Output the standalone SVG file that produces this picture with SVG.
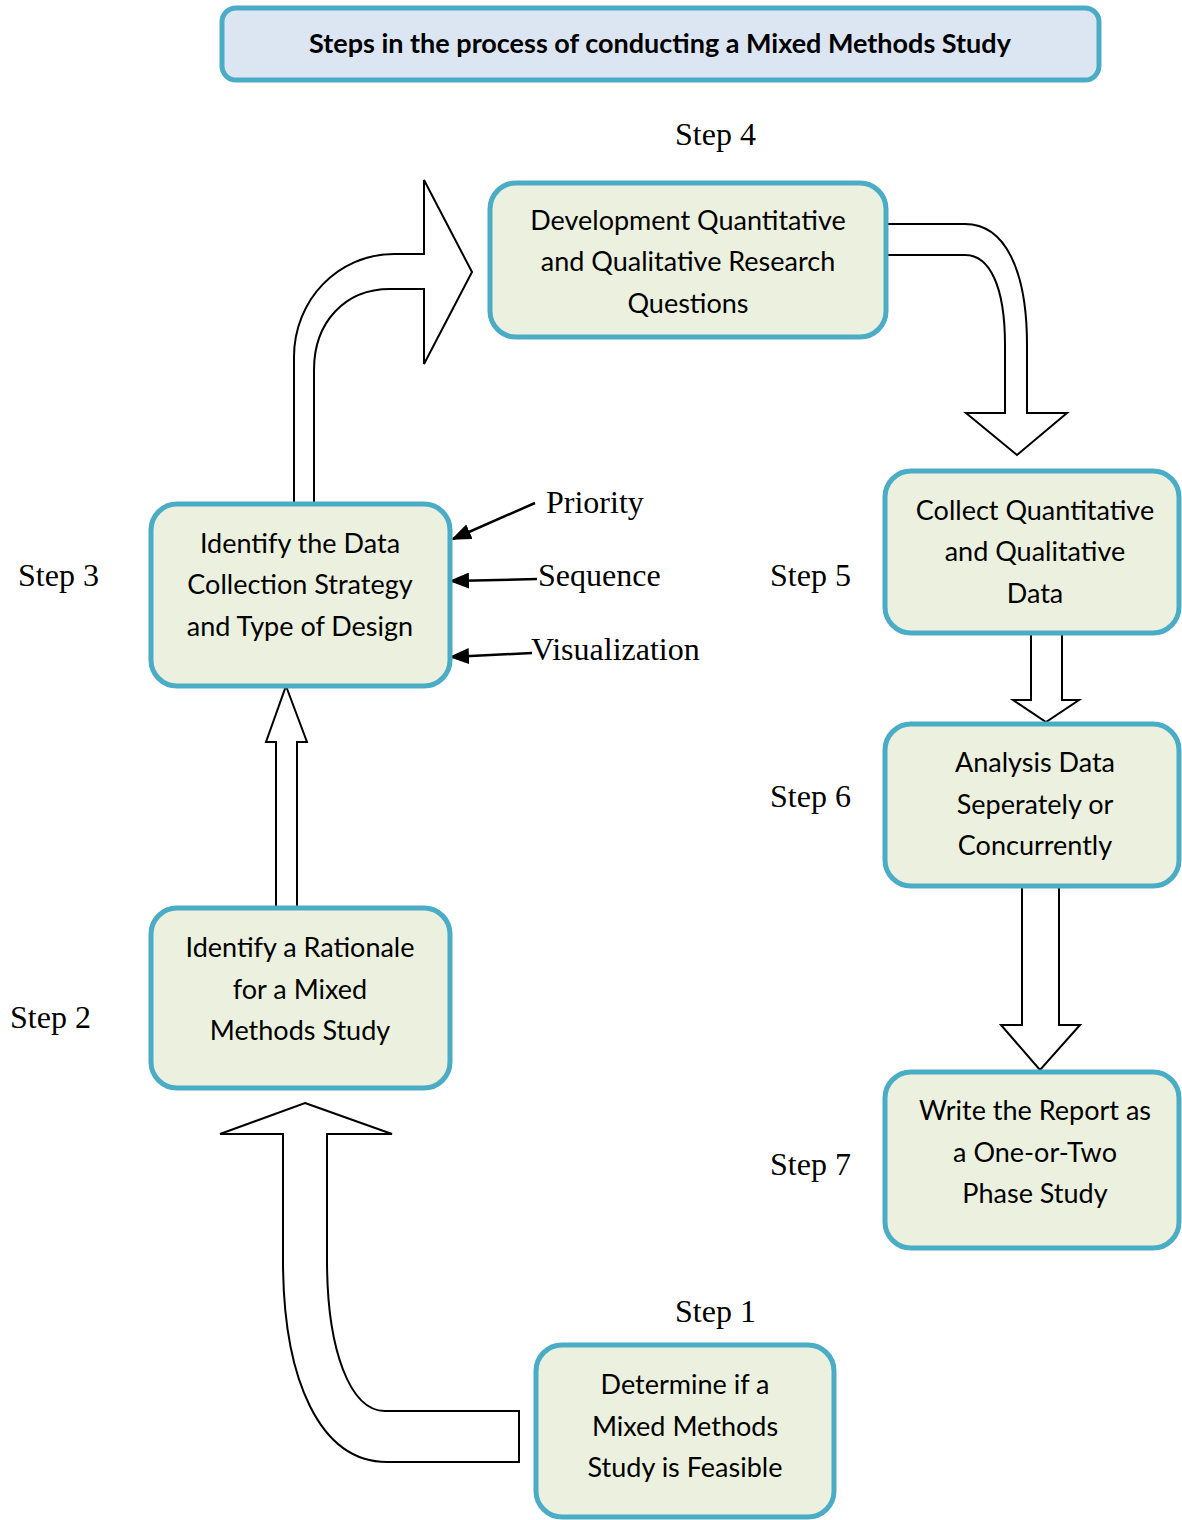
<svg xmlns="http://www.w3.org/2000/svg" width="1182" height="1520" viewBox="0 0 1182 1520">
<defs>
<style>
.box{fill:#EBF1DE;stroke:#4BACC6;stroke-width:5}
.title{fill:#DCE6F2;stroke:#4BACC6;stroke-width:5}
.t{font-family:Lato,"Open Sans","Liberation Sans",sans-serif;font-size:27px;fill:#000;text-anchor:middle}
.tb{font-family:Lato,"Open Sans","Liberation Sans",sans-serif;font-size:27px;font-weight:bold;fill:#000;text-anchor:middle}
.s{font-family:"Liberation Serif","Times New Roman",serif;font-size:32px;fill:#000}
.blk{fill:#fff;stroke:#000;stroke-width:2;stroke-linejoin:miter}
.ln{stroke:#000;stroke-width:2.5;fill:none}
</style>
<marker id="ah2" viewBox="0 0 10 10" refX="9" refY="5" markerWidth="20" markerHeight="16" markerUnits="userSpaceOnUse" orient="auto" preserveAspectRatio="none">
<path d="M0,0 L10,5 L0,10 Z" fill="#000"/>
</marker>
</defs>
<rect width="1182" height="1520" fill="#fff"/>

<g id="title">
<rect class="title" x="222" y="8" width="877" height="72" rx="14"/>
<text class="tb" x="660" y="53">Steps in the process of conducting a Mixed Methods Study</text>
</g>

<g id="connectors">
<path class="blk" d="M294 503 L294 357 C294 300 338 254 394 254 L424 254 L424 180 L472 272 L424 364 L424 289 L390 289 C345 289 314 322 314 370 L314 503 Z"/>
<path class="blk" d="M887 224 L965 224 C1005 224 1027 270 1027 345 L1027 413 L1067 413 L1017 455 L966 413 L1005 413 L1005 345 C1005 287 990 255 965 255 L887 255 Z"/>
<path class="blk" d="M305 1103 L392 1134 L327 1134 L327 1260 C327 1350 350 1411 385 1411 L519 1411 L519 1462 L387 1462 C320 1462 283 1380 283 1260 L283 1134 L220 1134 Z"/>
<path class="blk" d="M286 686 L307 742 L297 742 L297 907 L276 907 L276 742 L266 742 Z"/>
<path class="blk" d="M1031 633 L1062 633 L1062 700 L1079 700 L1046 722 L1013 700 L1031 700 Z"/>
<path class="blk" d="M1022 887 L1059 887 L1059 1025 L1080 1025 L1040 1070 L1001 1025 L1022 1025 Z"/>
<line class="ln" x1="535" y1="503" x2="453" y2="539" marker-end="url(#ah2)"/>
<line class="ln" x1="537" y1="579" x2="451" y2="581" marker-end="url(#ah2)"/>
<line class="ln" x1="532" y1="653" x2="451" y2="657" marker-end="url(#ah2)"/>
</g>

<g id="step4">
<rect class="box" x="490" y="183" width="396" height="154" rx="26"/>
<text class="t" x="688" y="230">Development Quantitative</text>
<text class="t" x="688" y="271">and Qualitative Research</text>
<text class="t" x="688" y="313">Questions</text>
</g>

<g id="step3">
<rect class="box" x="151" y="504" width="299" height="182" rx="26"/>
<text class="t" x="300" y="553">Identify the Data</text>
<text class="t" x="300" y="594">Collection Strategy</text>
<text class="t" x="300" y="636">and Type of Design</text>
</g>

<g id="step2">
<rect class="box" x="151" y="908" width="299" height="180" rx="26"/>
<text class="t" x="300" y="957">Identify a Rationale</text>
<text class="t" x="300" y="999">for a Mixed</text>
<text class="t" x="300" y="1040">Methods Study</text>
</g>

<g id="step1">
<rect class="box" x="536" y="1345" width="298" height="172" rx="26"/>
<text class="t" x="685" y="1394">Determine if a</text>
<text class="t" x="685" y="1436">Mixed Methods</text>
<text class="t" x="685" y="1477">Study is Feasible</text>
</g>

<g id="step5">
<rect class="box" x="885" y="471" width="294" height="162" rx="26"/>
<text class="t" x="1035" y="520">Collect Quantitative</text>
<text class="t" x="1035" y="561">and Qualitative</text>
<text class="t" x="1035" y="603">Data</text>
</g>

<g id="step6">
<rect class="box" x="885" y="724" width="294" height="162" rx="26"/>
<text class="t" x="1035" y="772">Analysis Data</text>
<text class="t" x="1035" y="814">Seperately or</text>
<text class="t" x="1035" y="855">Concurrently</text>
</g>

<g id="step7">
<rect class="box" x="885" y="1072" width="294" height="176" rx="26"/>
<text class="t" x="1035" y="1120">Write the Report as</text>
<text class="t" x="1035" y="1162">a One-or-Two</text>
<text class="t" x="1035" y="1203">Phase Study</text>
</g>

<g id="labels">
<text class="s" x="675" y="145">Step 4</text>
<text class="s" x="18" y="586">Step 3</text>
<text class="s" x="770" y="586">Step 5</text>
<text class="s" x="770" y="807">Step 6</text>
<text class="s" x="10" y="1028">Step 2</text>
<text class="s" x="770" y="1175">Step 7</text>
<text class="s" x="675" y="1322">Step 1</text>
<text class="s" x="546" y="513">Priority</text>
<text class="s" x="538" y="586">Sequence</text>
<text class="s" x="531" y="660">Visualization</text>
</g>
</svg>
